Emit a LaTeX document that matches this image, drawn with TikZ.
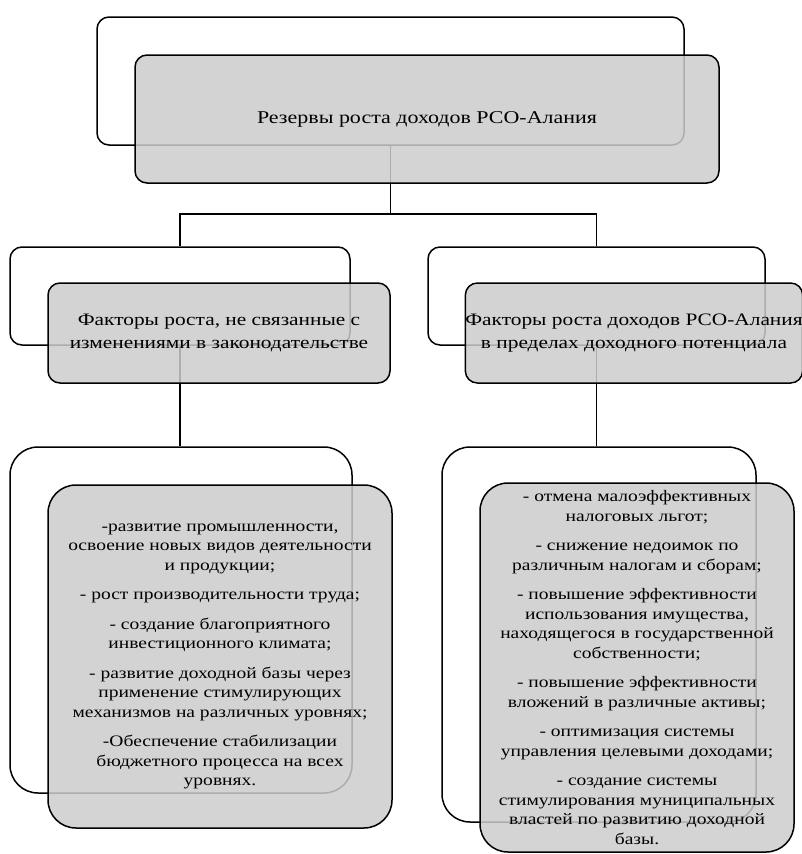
\documentclass[tikz,border=0pt]{standalone}
\usepackage{fontspec}
\setmainfont[FakeStretch=1.22]{Liberation Serif}
\usetikzlibrary{positioning}
\tikzset{
      back box/.style   = {draw=black, line width=1.5pt, rounded corners=12pt, fill=white, inner sep=0pt},
      front box/.style  = {draw=black, line width=1.5pt, rounded corners=12pt, fill=gray!40, fill opacity=0.85,
                           text opacity=1, align=center, inner sep=0pt, font=\fontsize{17.5}{23}\selectfont},
      title box/.style  = {front box, font=\fontsize{18}{23}\selectfont},
      list box/.style   = {front box, rounded corners=28pt, font=\fontsize{16}{19.5}\selectfont},
      tree edge/.style  = {black, line width=1.5pt},
    }

\begin{document}
\begin{tikzpicture}[x=1pt,y=-1pt,on grid]
      \useasboundingbox (0,0) rectangle (802,854);

      % back frames
      \node [back box, minimum width=587pt, minimum height=128pt] (reservesback)  at (390.5,81)  {};
      \node [back box, minimum width=340pt, minimum height=98pt]  (growthback)    at (180,296)   {};
      \node [back box, minimum width=337pt, minimum height=98pt]  (potentialback) at (596.5,296) {};
      \node [back box, minimum width=342pt, minimum height=346pt, rounded corners=28pt] (growthlistback)    at (181,620)   {};
      \node [back box, minimum width=314pt, minimum height=375pt, rounded corners=28pt] (potentiallistback) at (599,634.5) {};

      % tree
      \draw [tree edge] (reservesback.south) -- ++(0,68) coordinate (fork) -| (growthback.north);
      \draw [tree edge] (fork) -| (potentialback.north);
      \draw [tree edge] (growthback.south) -- (growthback.south |- growthlistback.north);
      \draw [tree edge] (potentialback.south) -- (potentialback.south |- potentiallistback.north);

      % front boxes
      \node [title box, minimum width=584pt, minimum height=128pt, below right=38pt and 36.5pt of reservesback] (reserves)
            {Резервы роста доходов РСО-Алания};
      \node [front box, minimum width=342pt, minimum height=100pt, below right=37pt and 39pt of growthback] (growth)
            {Факторы роста, не связанные с\\изменениями в законодательстве};
      \node [front box, minimum width=336pt, minimum height=100pt, below right=37pt and 37.5pt of potentialback] (potential)
            {Факторы роста доходов РСО-Алания\\в пределах доходного потенциала};
      \node [list box, minimum width=344pt, minimum height=343pt, below right=36.5pt and 39pt of growthlistback] (growthlist)
            {-развитие промышленности,\\освоение новых видов деятельности\\и продукции;\\[10pt]
             - рост производительности труда;\\[10pt]
             - создание благоприятного\\инвестиционного климата;\\[10pt]
             - развитие доходной базы через\\применение стимулирующих\\механизмов на различных уровнях;\\[10pt]
             -Обеспечение стабилизации\\бюджетного процесса на всех\\уровнях.};
      \node [list box, minimum width=314pt, minimum height=369pt, below right=33pt and 38pt of potentiallistback] (potentiallist)
            {- отмена малоэффективных\\налоговых льгот;\\[10pt]
             - снижение недоимок по\\различным налогам и сборам;\\[10pt]
             - повышение эффективности\\использования имущества,\\находящегося в государственной\\собственности;\\[10pt]
             - повышение эффективности\\вложений в различные активы;\\[10pt]
             - оптимизация системы\\управления целевыми доходами;\\[10pt]
             - создание системы\\стимулирования муниципальных\\властей по развитию доходной\\базы.};
\end{tikzpicture}
\end{document}
